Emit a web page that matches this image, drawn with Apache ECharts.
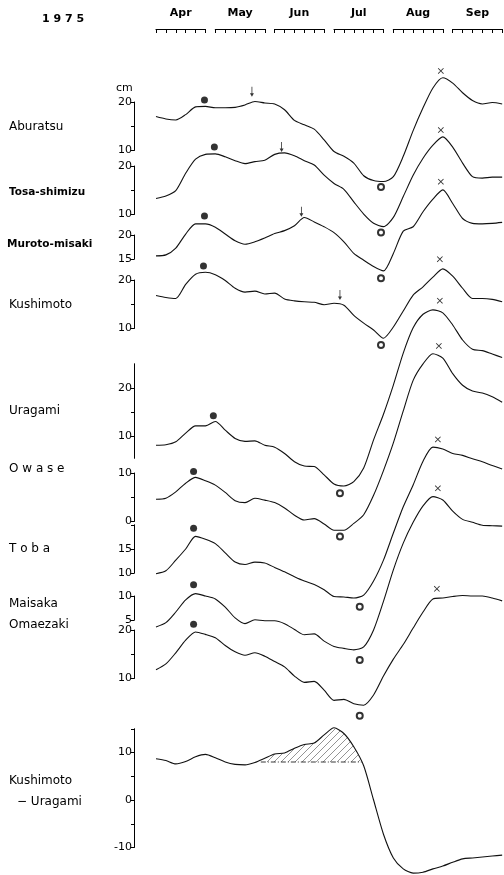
<!DOCTYPE html>
<html><head><meta charset="utf-8">
<script src="https://cdn.jsdelivr.net/npm/echarts@6/dist/echarts.min.js"></script>
<style>html,body{margin:0;padding:0;background:#fff}#c{width:504px;height:875px}</style>
</head><body><div id="c"></div>
<script>
// ---------- DATA (5-day means, cm) ----------
const yearLabel = '1 9 7 5';
const months = ['Apr', 'May', 'Jun', 'Jul', 'Aug', 'Sep'];
const pentads = [0,1,2,3,4,5,6,7,8,9,10,11,12,13,14,15,16,17,18,19,20,21,22,23,24,25,26,27,28,29,30,31,32,33,34,35];
const stationNames = ['Aburatsu', 'Tosa-shimizu', 'Muroto-misaki', 'Kushimoto', 'Uragami', 'O w a s e', 'T o b a', 'Maisaka', 'Omaezaki'];
const aburatsu = [17.0,16.5,16.3,17.4,19.0,19.1,18.8,18.8,18.9,19.4,20.1,19.8,19.6,18.4,16.2,15.3,14.4,12.2,9.8,8.8,7.4,4.8,3.8,3.6,4.6,8.8,14.1,18.8,22.9,25.0,23.9,21.9,20.3,19.6,19.9,19.6];
const tosaShimizu = [13.3,13.8,14.9,18.5,21.4,22.4,22.5,21.9,21.1,20.5,20.9,21.2,22.4,22.7,22.1,21.1,20.2,18.1,16.4,15.2,12.6,10.1,8.2,7.5,9.4,13.7,18.1,21.6,24.3,26.0,23.9,20.6,17.8,17.5,17.7,17.7];
const murotoMisaki = [15.7,15.9,17.3,20.2,22.3,22.3,21.6,20.2,18.8,18.1,18.6,19.4,20.3,20.9,21.9,23.6,22.7,21.7,20.5,18.6,16.2,14.8,13.5,12.6,16.2,20.8,21.7,24.8,27.4,29.3,26.5,23.4,22.4,22.3,22.4,22.6];
const kushimoto = [16.8,16.4,16.2,19.1,21.2,21.6,21.1,19.9,18.3,17.5,17.7,17.1,17.3,16.1,15.7,15.5,15.4,14.9,15.2,14.8,12.7,11.1,9.7,8.0,10.3,13.6,16.9,18.6,20.6,22.3,20.8,18.3,16.2,16.2,16.0,15.5];
const uragami = [8.2,8.3,8.9,10.7,12.2,12.2,13.1,11.3,9.6,9.0,9.1,8.2,7.8,6.5,4.8,3.9,3.8,2.1,0.2,-0.2,0.7,3.5,9.3,14.6,20.6,27.2,32.4,35.2,36.1,35.5,33.0,29.9,28.0,27.7,27.0,26.3];
const owase = [4.6,4.8,6.1,7.9,9.1,8.4,7.5,6.0,4.3,3.9,4.8,4.4,3.9,2.8,1.3,0.3,0.6,-0.5,-1.8,-1.8,-0.4,1.4,5.4,10.5,16.2,22.8,29.1,32.5,34.6,33.7,30.5,28.1,26.9,26.5,25.7,24.6];
const toba = [9.9,10.5,12.7,15.0,17.6,17.0,16.1,14.2,12.3,11.8,12.3,12.1,11.2,10.3,9.3,8.4,7.7,6.6,5.2,5.1,4.9,5.5,8.4,12.7,18.3,23.7,28.2,33.1,36.0,35.6,34.7,34.3,33.6,33.0,32.2,31.5];
const maisaka = [3.6,4.5,6.7,9.2,10.5,10.0,9.4,7.7,5.5,4.3,5.1,4.9,4.9,4.3,3.1,2.0,2.2,0.7,-0.4,-0.8,-1.1,-0.5,3.0,8.9,15.4,20.9,25.2,28.6,30.5,29.8,27.5,25.8,25.2,24.6,24.5,24.4];
const omaezaki = [11.8,13.0,15.3,17.9,19.6,19.1,18.4,16.8,15.5,14.8,15.3,14.6,13.5,12.4,10.5,9.2,9.4,7.6,5.5,5.7,4.8,4.5,6.6,10.5,14.0,17.0,20.4,23.7,26.4,26.6,26.9,27.1,27.0,27.0,26.6,26.0];
const kushimotoMinusUragami = [8.7,8.3,7.6,8.1,9.1,9.6,8.9,8.0,7.5,7.4,7.9,8.8,9.7,9.9,10.9,11.7,12.0,13.7,15.2,14.0,11.2,7.2,0.0,-7.2,-12.2,-14.5,-15.4,-15.2,-14.5,-13.9,-13.1,-12.4,-12.2,-12.0,-11.8,-11.6];
const hatchRange = [10.6, 20.8];
const hatchBase = 8;
// markers: [pentad, cm] in station order (null = none)
const dotMarks = [[4.9,20.4],[5.9,23.9],[4.9,23.9],[4.8,22.9],[5.8,14.3],[3.8,10.3],[3.8,19.3],[3.8,12.3],[3.8,21.2]];
const arrowMarks = [[9.7,22.1],[12.7,23.9],[14.7,24.8],[18.6,16.9],null,null,null,null,null];
const circleMarks = [[22.75,2.5],[22.75,6.3],[22.75,11.1],[22.75,6.6],[18.6,-1.7],[18.6,-3.1],[20.6,3.1],[20.6,-3.2],[20.6,2.3]];
const crossMarks = [[28.8,26.4],[28.8,27.4],[28.8,31.0],[28.7,24.3],[28.7,38.0],[28.6,36.2],[28.5,37.6],[28.5,32.2],[28.4,28.5]];

// ---------- LAYOUT ----------
const FONT = 'DejaVu Sans';
const X0 = 156, PXK = 9.89, AXIS_X = 134;
const layout = [
  {top:102,    min:10,  max:20, ticks:[10,15,20], labels:[10,20], ly:127, bold:false},
  {top:166,    min:10,  max:20, ticks:[10,15,20], labels:[10,20], ly:192, bold:true},
  {top:235,    min:15,  max:20, ticks:[15,20],    labels:[15,20], ly:244, bold:true},
  {top:280,    min:10,  max:20, ticks:[10,15,20], labels:[10,20], ly:305, bold:false},
  {top:363.75, min:5.5, max:25, ticks:[10,15,20], labels:[10,20], ly:411, bold:false},
  {top:473,    min:0,   max:10, ticks:[0,5,10],   labels:[0,10],  ly:469, bold:false},
  {top:524.75, min:10,  max:20, ticks:[10,15,20], labels:[10,15], ly:549, bold:false},
  {top:596,    min:5,   max:10, ticks:[5,10],     labels:[5,10],  ly:604, bold:false},
  {top:630,    min:10,  max:20, ticks:[10,15,20], labels:[10,20], ly:625, bold:false}
];
const diffLayout = {top:728.75, min:-10, max:15, scale:4.75, ticks:[-10,-5,0,5,10,15], labels:[-10,0,10]};
const PXCM = 4.85;
const stationSeries = [aburatsu, tosaShimizu, murotoMisaki, kushimoto, uragami, owase, toba, maisaka, omaezaki];

const grids = [], xAxes = [], yAxes = [], series = [], graphics = [];
const lineColor = '#111';

function yAx(gi, L) {
  return {
    gridIndex: gi, type: 'value', min: L.min, max: L.max, position: 'left', offset: X0 - AXIS_X,
    axisLine: {show: true, onZero: false, lineStyle: {color: '#000', width: 1}},
    axisTick: {show: true, length: 3, customValues: L.ticks, lineStyle: {color: '#000', width: 1}},
    axisLabel: {show: true, customValues: L.labels, color: '#000', fontSize: 11, fontFamily: FONT, margin: 2},
    splitLine: {show: false}
  };
}
function toPts(arr) { return arr.map((v, i) => [pentads[i], v]); }

const ARROW = 'path://M4,0 L6,0 L6,13 L10,13 L5,20 L0,13 L4,13 Z';
const CROSS = 'path://M0,1 L1,0 L5,4 L9,0 L10,1 L6,5 L10,9 L9,10 L5,6 L1,10 L0,9 L4,5 Z';

function addPanel(gi, L, vals, scale) {
  grids.push({left: X0, width: 35 * PXK, top: L.top, height: (L.max - L.min) * scale, outerBoundsMode: 'none'});
  xAxes.push({gridIndex: gi, type: 'value', min: 0, max: 35, show: false});
  yAxes.push(yAx(gi, L));
  series.push({type: 'line', xAxisIndex: gi, yAxisIndex: gi, data: toPts(vals), symbol: 'none', clip: false,
    smooth: 0.25, lineStyle: {color: lineColor, width: 1.1}, z: 3, silent: true});
}

stationSeries.forEach((vals, i) => {
  const L = layout[i];
  addPanel(i, L, vals, PXCM);
  const mk = (pt, symbol, size, style) => pt ? series.push({type: 'scatter', xAxisIndex: i, yAxisIndex: i,
    data: [pt], symbol, symbolSize: size, clip: false, itemStyle: style, z: 4, silent: true}) : null;
  mk(dotMarks[i], 'circle', 7, {color: '#000'});
  mk(arrowMarks[i], ARROW, [4, 10], {color: '#000'});
  mk(circleMarks[i], 'emptyCircle', 6, {color: '#000', borderColor: '#000', borderWidth: 0.9});
  mk(crossMarks[i], CROSS, [6, 6], {color: '#000'});
  graphics.push({type: 'text', x: i === 2 ? 7 : 9, y: L.ly, style: {text: stationNames[i],
    fontFamily: FONT, fontSize: L.bold ? 10.5 : 12, fontWeight: L.bold ? 'bold' : 'normal', fill: '#000', verticalAlign: 'middle'}});
});

// difference panel
const dg = stationSeries.length;
addPanel(dg, diffLayout, kushimotoMinusUragami, diffLayout.scale);
const pc = document.createElement('canvas');
pc.width = 7; pc.height = 7;
const cx = pc.getContext('2d');
cx.strokeStyle = '#666'; cx.lineWidth = 0.7;
cx.beginPath(); cx.moveTo(0, 7); cx.lineTo(7, 0); cx.moveTo(-1, 1); cx.lineTo(1, -1); cx.moveTo(6, 8); cx.lineTo(8, 6); cx.stroke();
const hatchPts = [[hatchRange[0], hatchBase]];
pentads.forEach((p, i) => { if (p > hatchRange[0] && p < hatchRange[1]) hatchPts.push([p, kushimotoMinusUragami[i]]); });
hatchPts.push([hatchRange[1], hatchBase]);
series.push({type: 'line', xAxisIndex: dg, yAxisIndex: dg, data: hatchPts, symbol: 'none', smooth: 0.25,
  lineStyle: {width: 0, opacity: 0}, areaStyle: {origin: hatchBase, color: {image: pc, repeat: 'repeat'}, opacity: 1}, z: 2, silent: true});
series.push({type: 'line', xAxisIndex: dg, yAxisIndex: dg, data: [[hatchRange[0], hatchBase], [hatchRange[1], hatchBase]],
  symbol: 'none', lineStyle: {color: '#222', width: 0.9, type: [5, 2, 1, 2]}, z: 2, silent: true});
graphics.push({type: 'text', x: 9, y: 781, style: {text: 'Kushimoto', fontFamily: FONT, fontSize: 12, fill: '#000', verticalAlign: 'middle'}});
graphics.push({type: 'text', x: 17, y: 802, style: {text: '\u2212 Uragami', fontFamily: FONT, fontSize: 12, fill: '#000', verticalAlign: 'middle'}});

// month brackets on top
months.forEach((m, j) => {
  const gi = grids.length;
  grids.push({left: X0 + 6 * j * PXK, width: 5 * PXK, top: 29, height: 1, outerBoundsMode: 'none'});
  xAxes.push({gridIndex: gi, type: 'value', min: 6 * j, max: 6 * j + 5, interval: 1, position: 'top',
    axisLine: {show: true, onZero: false, lineStyle: {color: '#000', width: 1.2}},
    axisTick: {show: true, inside: true, length: 4, lineStyle: {color: '#000', width: 1}},
    axisLabel: {show: false}, splitLine: {show: false},
    name: m, nameLocation: 'middle', nameGap: 10,
    nameTextStyle: {color: '#000', fontSize: 11, fontFamily: FONT, fontWeight: 'bold'}});
  yAxes.push({gridIndex: gi, type: 'value', show: false});
});

graphics.push({type: 'text', x: 42, y: 19, style: {text: yearLabel, fontFamily: FONT, fontSize: 11, fontWeight: 'bold', fill: '#000', verticalAlign: 'middle'}});
graphics.push({type: 'text', x: 116, y: 88, style: {text: 'cm', fontFamily: FONT, fontSize: 11, fill: '#000', verticalAlign: 'middle'}});

const chart = echarts.init(document.getElementById('c'), null, {renderer: 'canvas'});
chart.setOption({
  backgroundColor: '#fff', animation: false,
  grid: grids, xAxis: xAxes, yAxis: yAxes, series: series, graphic: graphics
});
</script></body></html>
